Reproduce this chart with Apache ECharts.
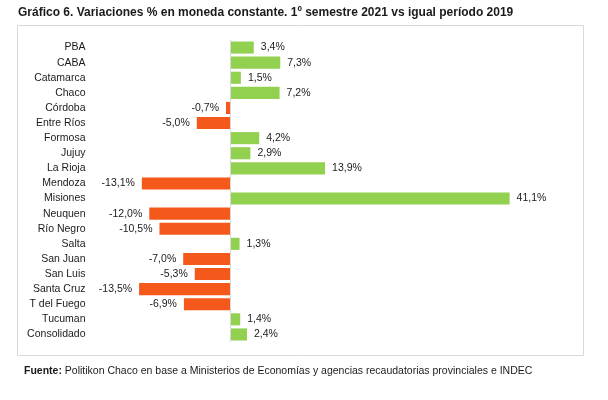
<!DOCTYPE html>
<html>
<head>
<meta charset="UTF-8">
<title>Gráfico 6</title>
<script src="https://cdn.jsdelivr.net/npm/echarts@6/dist/echarts.min.js"></script>
<style>
  html, body { margin: 0; padding: 0; background: #fff; }
  #chart { width: 608px; height: 400px; }
</style>
</head>
<body>
<div id="chart"></div>
<script>
// provincias (de arriba hacia abajo)
var provincias = ['PBA', 'CABA', 'Catamarca', 'Chaco', 'Córdoba', 'Entre Ríos', 'Formosa', 'Jujuy',
  'La Rioja', 'Mendoza', 'Misiones', 'Neuquen', 'Río Negro', 'Salta', 'San Juan', 'San Luis',
  'Santa Cruz', 'T del Fuego', 'Tucuman', 'Consolidado'];
// variación % en moneda constante
var variaciones = [3.4, 7.3, 1.5, 7.2, -0.7, -5.0, 4.2, 2.9, 13.9, -13.1, 41.1, -12.0, -10.5, 1.3,
  -7.0, -5.3, -13.5, -6.9, 1.4, 2.4];

var verde = '#92d050';
var naranja = '#f4581b';
var fuente = 'Liberation Sans, Arial, sans-serif';

var myChart = echarts.init(document.getElementById('chart'));

// armar los datos con color y posición de etiqueta según el signo
var datos = [];
for (var i = 0; i < variaciones.length; i++) {
  var v = variaciones[i];
  datos.push({
    value: v,
    itemStyle: { color: v < 0 ? naranja : verde },
    label: { position: v < 0 ? 'left' : 'right' }
  });
}

var option = {
  animation: false,
  textStyle: { fontFamily: fuente },
  title: {
    text: 'Gráfico 6. Variaciones % en moneda constante. 1º semestre 2021 vs igual período 2019',
    left: 18,
    top: 7,
    padding: 0,
    textStyle: { fontSize: 12, fontWeight: 'bold', color: '#1a1a1a', fontFamily: fuente }
  },
  graphic: [
    // marco del gráfico
    {
      type: 'rect',
      shape: { x: 17.5, y: 25.5, width: 566, height: 330 },
      style: { fill: 'none', stroke: '#d9d9d9', lineWidth: 1 },
      silent: true
    },
    // fuente
    {
      type: 'text',
      x: 24,
      y: 371,
      style: {
        text: '{b|Fuente:} Politikon Chaco en base a Ministerios de Economías y agencias recaudatorias provinciales e INDEC',
        fill: '#1a1a1a',
        verticalAlign: 'middle',
        font: '10.5px ' + fuente,
        rich: {
          b: { fontWeight: 'bold', fontSize: 10.5, fill: '#1a1a1a', fontFamily: fuente }
        }
      }
    }
  ],
  grid: {
    left: 95,
    top: 40,
    width: 475,
    height: 302
  },
  xAxis: {
    type: 'value',
    min: -20,
    max: 50,
    interval: 10,
    show: false
  },
  yAxis: {
    type: 'category',
    inverse: true,
    data: provincias,
    axisLine: { show: false },
    axisTick: { show: false },
    axisLabel: { fontSize: 10.5, color: '#1a1a1a', margin: 9.5 }
  },
  series: [{
    name: 'Variación',
    type: 'bar',
    data: datos,
    barCategoryGap: '20%',
    label: {
      show: true,
      fontSize: 10.5,
      color: '#1a1a1a',
      distance: 7,
      formatter: function (p) {
        return p.value.toFixed(1).replace('.', ',') + '%';
      }
    },
    markLine: {
      silent: true,
      symbol: 'none',
      label: { show: false },
      lineStyle: { color: '#d9d9d9', type: 'solid', width: 1 },
      data: [{ xAxis: 0 }]
    }
  }]
};

myChart.setOption(option);
</script>
</body>
</html>
